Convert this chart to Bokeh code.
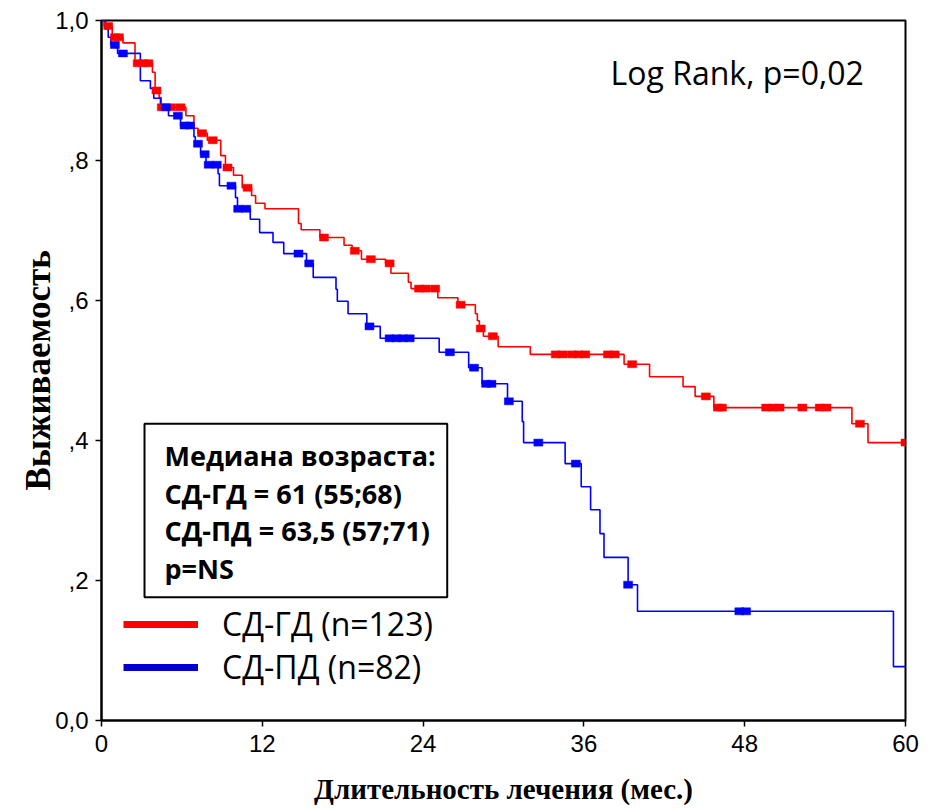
import numpy as np
from bokeh.plotting import figure
from bokeh.models import (Range1d, FixedTicker, Label, BoxAnnotation, Legend,
                          LegendItem)
from bokeh.embed import file_html
from bokeh.resources import INLINE

# Kaplan-Meier survival, group "СД-ГД" (n=123): event times (months) and survival after each step
gd_times = [0.0, 0.2, 0.8, 1.6, 2.5, 3.8, 4.0, 4.3, 4.45, 6.3, 6.9, 7.2, 7.9, 8.9, 9.25,
            9.85, 10.5, 11.2, 11.5, 12.2, 14.7, 14.9, 16.3, 18.1, 18.7, 19.4, 21.2, 21.6,
            22.9, 23.1, 25.1, 26.6, 27.9, 28.05, 28.2, 28.5, 29.6, 32.0, 39.0, 40.9, 43.4,
            44.3, 45.7, 56.0, 57.2]
gd_surv = [1.0, 0.992, 0.976, 0.968, 0.939, 0.926, 0.900, 0.890, 0.876, 0.864, 0.846, 0.839,
           0.829, 0.807, 0.790, 0.779, 0.761, 0.750, 0.739, 0.731, 0.710, 0.701, 0.690, 0.679,
           0.671, 0.659, 0.653, 0.639, 0.626, 0.617, 0.604, 0.594, 0.581, 0.571, 0.560, 0.549,
           0.534, 0.523, 0.509, 0.491, 0.477, 0.463, 0.447, 0.424, 0.397]
gd_censored = [0.5, 1.0, 1.3, 2.7, 3.1, 3.5, 4.1, 4.5, 5.2, 5.9, 7.5, 8.3, 9.4, 10.9, 16.6,
               18.9, 20.1, 21.5, 23.7, 24.2, 24.9, 26.8, 28.3, 29.2, 33.9, 34.4, 35.1, 35.6,
               36.1, 37.8, 38.3, 39.6, 45.1, 46.0, 46.3, 49.6, 50.1, 50.6, 52.3, 53.6, 54.1,
               56.6, 60.0]

# Group "СД-ПД" (n=82)
pd_times = [0.0, 0.3, 0.5, 0.7, 1.2, 2.9, 3.65, 3.9, 4.4, 5.0, 5.9, 6.9, 7.0, 7.4, 7.8, 8.7,
            8.8, 10.0, 10.15, 11.1, 11.8, 12.8, 13.6, 15.3, 15.8, 17.5, 17.6, 18.4, 19.8,
            20.8, 25.2, 27.4, 28.4, 30.3, 31.4, 31.5, 34.6, 35.8, 36.5, 37.2, 37.5, 39.3,
            40.0, 59.1]
pd_surv = [1.0, 0.988, 0.976, 0.965, 0.953, 0.914, 0.903, 0.889, 0.876, 0.864, 0.850, 0.834,
           0.824, 0.809, 0.794, 0.781, 0.764, 0.747, 0.731, 0.716, 0.697, 0.683, 0.667, 0.653,
           0.633, 0.616, 0.599, 0.581, 0.563, 0.546, 0.526, 0.504, 0.481, 0.456, 0.427, 0.397,
           0.367, 0.334, 0.301, 0.267, 0.233, 0.194, 0.156, 0.077]
pd_censored = [1.0, 1.6, 4.8, 5.7, 6.2, 6.6, 7.2, 7.7, 8.0, 8.6, 9.7, 10.2, 10.8, 14.7, 15.5,
               20.0, 21.5, 22.0, 22.5, 23.0, 26.0, 27.8, 28.7, 29.1, 30.4, 32.6, 35.4, 39.3,
               47.6, 48.1]

follow_up_end = 60.0

x_ticks = [0, 12, 24, 36, 48, 60]
y_ticks = [0.0, 0.2, 0.4, 0.6, 0.8, 1.0]
y_tick_labels = ["0,0", ",2", ",4", ",6", ",8", "1,0"]

x_title = "Длительность лечения (мес.)"
y_title = "Выживаемость"
groups = ["СД-ГД (n=123)", "СД-ПД (n=82)"]
info_lines = ["Медиана возраста:", "СД-ГД = 61 (55;68)", "СД-ПД = 63,5 (57;71)", "p=NS"]
test_text = "Log Rank, p=0,02"

RED = "#ff0000"
BLUE = "#0000ff"


def surv_at(times, surv, t):
    idx = np.searchsorted(np.asarray(times), np.asarray(t), side="right") - 1
    return np.asarray(surv)[idx]


p = figure(width=928, height=810, output_backend="svg", toolbar_location=None,
           x_range=Range1d(0, 60), y_range=Range1d(0, 1),
           min_border_left=101, min_border_right=23, min_border_top=20,
           min_border_bottom=90)
p.background_fill_color = "white"
p.border_fill_color = "white"
p.xgrid.visible = False
p.ygrid.visible = False
p.outline_line_color = "black"
p.outline_line_width = 2

for ax in (p.xaxis[0], p.yaxis[0]):
    ax.axis_line_width = 2
    ax.axis_line_color = "black"
    ax.major_tick_line_width = 1.5
    ax.major_tick_out = 6
    ax.major_tick_in = 0
    ax.minor_tick_out = 0
    ax.minor_tick_in = 0
    ax.major_label_text_font = "Liberation Sans"
    ax.major_label_text_font_size = "24px"
    ax.major_label_text_color = "black"
    ax.axis_label_text_font = "Liberation Serif"
    ax.axis_label_text_font_style = "bold"
    ax.axis_label_text_color = "black"

p.xaxis.ticker = FixedTicker(ticks=x_ticks)
p.yaxis.ticker = FixedTicker(ticks=y_ticks)
p.yaxis.major_label_overrides = dict(zip(y_ticks, y_tick_labels))
p.xaxis.major_label_standoff = 8
p.yaxis.major_label_standoff = 7
p.xaxis.axis_label = x_title
p.yaxis.axis_label = y_title
p.xaxis.axis_label_text_font_size = "29px"
p.yaxis.axis_label_text_font_size = "35px"
p.xaxis.axis_label_standoff = 18
p.yaxis.axis_label_standoff = -6

# survival step curves, extended to the end of follow-up
for times, surv, color in ((gd_times, gd_surv, RED), (pd_times, pd_surv, BLUE)):
    xs = list(times) + [follow_up_end]
    ys = list(surv) + [surv[-1]]
    p.step(xs, ys, mode="after", line_color=color, line_width=1.6)

# censored observations
for times, surv, cens, color in ((gd_times, gd_surv, gd_censored, RED),
                                 (pd_times, pd_surv, pd_censored, BLUE)):
    p.rect(x=cens, y=surv_at(times, surv, cens), width=9, height=7,
           width_units="screen", height_units="screen",
           fill_color=color, line_color=color, line_width=0.5)

# legend entries with thick swatches (renderers hold no visible data)
r_gd = p.line(x=np.array([np.nan]), y=np.array([np.nan]), line_color=RED, line_width=7)
r_pd = p.line(x=np.array([np.nan]), y=np.array([np.nan]), line_color="#0000cc", line_width=7)
legend = Legend(items=[LegendItem(label=groups[0], renderers=[r_gd]),
                       LegendItem(label=groups[1], renderers=[r_pd])],
                location=(22, 32), orientation="vertical",
                background_fill_alpha=0, border_line_alpha=0,
                padding=0, margin=0, spacing=0,
                glyph_width=75, glyph_height=38, label_height=38,
                label_standoff=24,
                label_text_font="Open Sans", label_text_font_size="32px",
                label_text_color="black")
p.add_layout(legend, "center")

# age summary box
p.add_layout(BoxAnnotation(left=3.21, right=25.8, bottom=0.176, top=0.424,
                           fill_alpha=0, line_color="black", line_alpha=1,
                           line_width=2))
for i, line in enumerate(info_lines):
    p.add_layout(Label(x=4.7, y=0.379 - i * 0.054, text=line,
                       text_font="Open Sans", text_font_style="bold",
                       text_font_size="27px", text_baseline="middle",
                       text_color="black"))

p.add_layout(Label(x=37.99, y=0.926, text=test_text, text_font="Open Sans",
                   text_font_size="32px", text_baseline="middle",
                   text_color="black"))

open("out.html", "w").write(file_html(p, INLINE))
